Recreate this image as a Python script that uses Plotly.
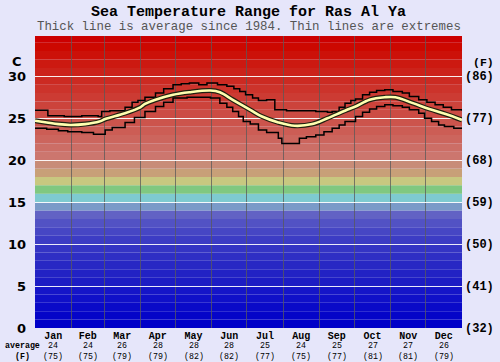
import plotly.graph_objects as go

# ---- data ----
month_names = ["Jan","Feb","Mar","Apr","May","Jun","Jul","Aug","Sep","Oct","Nov","Dec"]
month_avg_c = [24,24,26,28,28,28,25,24,25,27,27,26]
month_avg_f = [75,75,79,79,82,82,77,75,77,81,81,79]
month_mid_day = [15.5,45,74.5,105,135.5,166,196.5,227.5,258,288.5,319,349.5]
month_edge_day = [31,59,90,120,151,181,212,243,273,304,334]

c_ticks = [0,5,10,15,20,25,30]
f_ticks = ["(32)","(41)","(50)","(59)","(68)","(77)","(86)"]

upper_day = [0,10,11,25,40,54,57,64,71,77,83,88,94,103,110,118,125,132,140,147,156,164,170,175,180,186,191,198,205,215,227,240,250,254,260,265,270,274,280,286,292,299,306,314,320,328,335,342,349,356,365]
upper_t   = [25.95,25.95,25.3,25.2,25.3,25.2,25.8,25.9,25.9,26.3,26.9,27.1,27.5,28.0,28.5,29.0,29.1,29.2,29.0,29.2,29.0,28.8,28.5,28.2,27.8,27.4,27.1,27.2,26.0,25.9,25.9,25.8,25.7,25.8,26.3,26.8,27.1,27.3,27.8,28.1,28.3,28.4,28.2,28.0,27.6,27.2,26.9,26.6,26.3,26.0,25.9]

lower_day = [0,10,20,28,40,50,54,60,66,77,85,94,103,110,118,130,140,150,158,164,169,174,178,184,191,198,208,211,225,226,232,240,247,254,260,265,274,280,286,292,299,306,314,320,328,333,339,345,350,358,365]
lower_t   = [23.8,23.7,23.5,23.4,23.3,23.1,23.1,23.6,23.9,24.5,25.1,25.8,26.4,26.9,27.4,27.5,27.5,27.4,26.8,26.3,25.8,25.2,24.6,24.3,23.6,23.3,22.6,22.0,22.0,22.6,22.8,23.0,23.4,23.8,24.2,24.6,25.2,25.7,26.1,26.4,26.6,26.5,26.3,26.0,25.6,25.0,24.6,24.2,24.0,23.8,23.8]

avg_day = [0,10,20,30,43,55,60,77,90,94,103,118,132,150,158,169,184,194,208,222,237,250,265,274,286,299,308,323,337,351,365]
avg_t   = [24.7,24.5,24.3,24.2,24.3,24.6,24.9,25.6,26.3,26.7,27.2,27.8,28.1,28.3,28.1,27.2,26.0,25.2,24.5,24.1,24.3,25.0,25.9,26.4,27.2,27.5,27.5,26.8,26.1,25.5,24.8]

band_colors = [
    "#0000c8","#0505c8","#0a0ac8","#1010c8","#1515c8",
    "#1c1cc4","#2222c4","#2828c4","#2e2ec4","#3434c4",
    "#3c3cc4","#4646c4","#5252c4","#6262c4","#7a9ac8",
    "#7ecad0","#80c880","#c8c880","#c8a078","#c88c78",
]
for t in range(20, 35):
    g = round(118 * (34 - t) / 14)
    band_colors.append(f"rgb(204,{g},{max(0, g - 8)})")

mono = "Liberation Mono"
W, H = 500, 362
ML, MR, MT, MB = 35, 38, 36, 34
pw, ph = W - ML - MR, H - MT - MB


def px_to_paper_y(py):
    return (H - MB - py) / ph


def px_to_paper_x(px):
    return (px - ML) / pw


fig = go.Figure()

shapes = []
for t, col in enumerate(band_colors):
    shapes.append(dict(type="rect", xref="x", yref="y", x0=0, x1=365, y0=t, y1=t + 1,
                       fillcolor=col, line=dict(width=0), layer="below"))

fig.add_trace(go.Scatter(x=upper_day, y=upper_t, mode="lines", line=dict(color="black", width=1.5, shape="hv"), hoverinfo="skip"))
fig.add_trace(go.Scatter(x=lower_day, y=lower_t, mode="lines", line=dict(color="black", width=1.5, shape="hv"), hoverinfo="skip"))
fig.add_trace(go.Scatter(x=avg_day, y=avg_t, mode="lines", line=dict(color="#202010", width=5, shape="spline"), hoverinfo="skip"))
fig.add_trace(go.Scatter(x=avg_day, y=avg_t, mode="lines", line=dict(color="#ffffb0", width=2.6, shape="spline"), hoverinfo="skip"))
fig.add_trace(go.Scatter(x=[0], y=[0], yaxis="y2", mode="markers", marker=dict(opacity=0), hoverinfo="skip"))

annotations = [
    dict(text="<b>Sea Temperature Range for Ras Al Ya</b>", x=0.5, y=px_to_paper_y(12.5), xref="paper", yref="paper",
         xanchor="center", yanchor="middle", showarrow=False, font=dict(size=15, family=mono, color="black")),
    dict(text="Thick line is average since 1984. Thin lines are extremes", x=0.5, y=px_to_paper_y(27), xref="paper", yref="paper",
         xanchor="center", yanchor="middle", showarrow=False, font=dict(size=12.4, family=mono, color="#555555")),
    dict(text="<b>C</b>", x=px_to_paper_x(24), y=px_to_paper_y(61), xref="paper", yref="paper", xanchor="right",
         yanchor="middle", showarrow=False, font=dict(size=13, family="DejaVu Sans", color="black")),
    dict(text="<b>(F)</b>", x=px_to_paper_x(471), y=px_to_paper_y(62), xref="paper", yref="paper", xanchor="left",
         yanchor="middle", showarrow=False, font=dict(size=11.5, family=mono, color="black")),
    dict(text="<b>average</b><br><b>(F)</b>", x=px_to_paper_x(22), y=px_to_paper_y(351), xref="paper", yref="paper",
         xanchor="center", yanchor="middle", showarrow=False, borderpad=0,
         font=dict(size=8.3, family=mono, color="black")),
]
for d, c, f in zip(month_mid_day, month_avg_c, month_avg_f):
    annotations.append(dict(text=f"{c}<br>({f})", x=d, xref="x", y=px_to_paper_y(351), yref="paper",
                            xanchor="center", yanchor="middle", showarrow=False, borderpad=0,
                            font=dict(size=8.3, family=mono, color="black")))

fig.update_layout(
    width=W, height=H,
    margin=dict(l=ML, r=MR, t=MT, b=MB, autoexpand=False),
    paper_bgcolor="#e6e6fa", plot_bgcolor="#e6e6fa",
    showlegend=False,
    shapes=shapes,
    font=dict(family=mono, color="black"),
    xaxis=dict(range=[0, 365], tickvals=month_mid_day, ticktext=[f"<b>{m}</b>" for m in month_names], automargin=False,
               showgrid=False, zeroline=False, ticks="", ticklabelstandoff=0,
               tickfont=dict(size=10, family=mono),
               minor=dict(tickvals=month_edge_day, showgrid=True, gridcolor="rgba(90,90,90,0.75)", gridwidth=1, ticks=""),
               fixedrange=True),
    yaxis=dict(range=[0, 34.8], tickvals=c_ticks, ticktext=[f"<b>{v}</b>" for v in c_ticks], automargin=False,
               showgrid=True, gridcolor="rgba(255,255,255,0.9)", gridwidth=1.3, zeroline=False,
               ticks="", ticklabelstandoff=8, tickfont=dict(size=13, family="DejaVu Sans", color="black"),
               fixedrange=True),
    yaxis2=dict(range=[0, 34.8], overlaying="y", side="right", tickvals=c_ticks, ticktext=[f"<b>{t}</b>" for t in f_ticks],
                automargin=False, showgrid=False, zeroline=False, ticks="", ticklabelstandoff=2,
                tickfont=dict(size=12, family=mono, color="black"), fixedrange=True),
    annotations=annotations,
)

fig.write_html("out.html", config={"displayModeBar": False},
               post_script="document.body.style.margin='0';document.body.style.background='#e6e6fa';")
